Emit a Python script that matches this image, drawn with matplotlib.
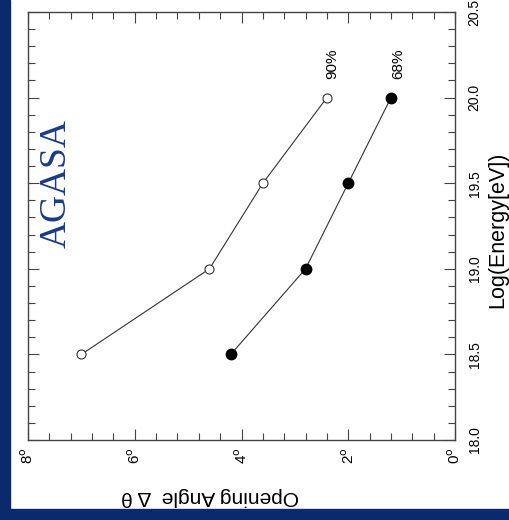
import matplotlib.pyplot as plt
from matplotlib.ticker import MultipleLocator
from matplotlib.patches import Rectangle

plt.rcParams.update({"font.family": "Liberation Sans"})

# data: log10 energy [eV] vs opening angle [deg]
log_energy = [18.5, 19.0, 19.5, 20.0]
angle_90 = [7.0, 4.6, 3.6, 2.4]
angle_68 = [4.2, 2.8, 2.0, 1.2]

energy_ticks = [18.0, 18.5, 19.0, 19.5, 20.0, 20.5]
angle_ticks = [8, 6, 4, 2, 0]

W, H = 510, 520
fig = plt.figure(figsize=(W / 100, H / 100), dpi=100)
fig.patch.set_facecolor("white")

# dark blue frame (left and bottom)
blue = "#0b2a6e"
fig.add_artist(Rectangle((0, 0), 10 / W, 1, transform=fig.transFigure, color=blue, zorder=0))
fig.add_artist(Rectangle((0, 0), 1, 11 / H, transform=fig.transFigure, color=blue, zorder=0))

# figure is a rotated copy of the original plot:
# angle runs horizontally (8 left -> 0 right), energy vertically
x0, x1, y0, y1 = 28, 455, 12, 440
ax = fig.add_axes([x0 / W, 1 - y1 / H, (x1 - x0) / W, (y1 - y0) / H])

ax.plot(angle_90, log_energy, color="#333333", lw=0.8, marker="o", ms=6.5,
        mfc="white", mec="#333333", mew=0.8)
ax.plot(angle_68, log_energy, color="#333333", lw=0.8, marker="o", ms=7.5,
        mfc="black", mec="black")

ax.set_xlim(8, 0)
ax.set_ylim(18.0, 20.5)

ax.set_xticks(angle_ticks)
ax.set_xticklabels([f"{a}$^{{\\rm o}}$" for a in angle_ticks], rotation=90, fontsize=11)
ax.xaxis.set_minor_locator(MultipleLocator(0.4))
ax.set_yticks(energy_ticks)
ax.set_yticklabels([f"{e:.1f}" for e in energy_ticks], rotation=90, fontsize=10, va="center")
ax.yaxis.set_minor_locator(MultipleLocator(0.1))
ax.yaxis.tick_right()

ax.tick_params(which="both", direction="in", top=True, bottom=True, left=True, right=True,
               color="#444444", width=0.8)
ax.tick_params(which="major", length=8)
ax.tick_params(which="minor", length=5)
ax.tick_params(axis="x", pad=5)
ax.tick_params(axis="y", pad=9)
for s in ax.spines.values():
    s.set_color("#444444")
    s.set_linewidth(1.0)

ax.text(2.3, 20.2, "90%", rotation=90, ha="center", va="center", fontsize=11)
ax.text(1.07, 20.2, "68%", rotation=90, ha="center", va="center", fontsize=11)

ax.text(7.47, 19.5, "AGASA", rotation=90, ha="center", va="center",
        fontsize=27, family="Liberation Serif", color="#1a3a85")

fig.text(498 / W, 1 - 230 / H, "Log(Energy[eV])", rotation=90, ha="center", va="center",
         fontsize=15.5)
fig.text(210 / W, 1 - 496 / H, "Opening Angle  \u0394 \u03b8", rotation=180,
         ha="center", va="center", fontsize=15)

fig.savefig("out.png", dpi=100)
